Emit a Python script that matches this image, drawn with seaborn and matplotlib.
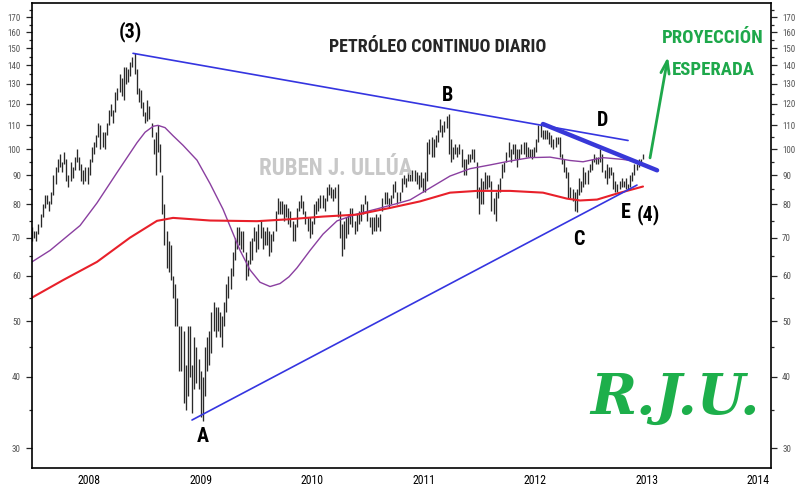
import numpy as np
import pandas as pd
import seaborn as sns
import matplotlib
matplotlib.use('Agg')
import matplotlib.pyplot as plt
from matplotlib.ticker import NullFormatter
from matplotlib.transforms import ScaledTranslation

# weekly (high, low) bars, one tuple per friday, from 10-aug-2007
hl_2007 = [(73, 69), (72, 70), (72, 69), (74, 71),
           (77, 73), (80, 76), (83, 79), (83, 80),
           (81, 78), (84, 80), (90, 83), (93, 87),
           (96, 91), (98, 93), (95, 91), (99, 94), (96, 88),
           (90, 86), (95, 88), (93, 89), (97, 92)]
hl_2008 = [(100, 95), (97, 92), (94, 88), (92, 87),
           (93, 88), (93, 87), (96, 90), (101, 95), (103, 98),
           (106, 101), (111, 105), (110, 100), (107, 101),
           (107, 100), (111, 106), (117, 110), (120, 114),
           (117, 111), (126, 116), (128, 122), (135, 126), (133, 124),
           (139, 122), (139, 130), (138, 131), (142, 134),
           (145, 139), (147, 135), (138, 125), (128, 121),
           (127, 118), (121, 114), (116, 111), (122, 112), (119, 113),
           (111, 105), (104, 98), (107, 90), (110, 99),
           (102, 91), (90, 77), (80, 68), (72, 62), (69, 61),
           (68, 59), (60, 55), (58, 49), (55, 49),
           (49, 41), (49, 41), (48, 36), (42, 35)]
hl_2009 = [(49, 37), (49, 40), (42, 34.5), (47, 38), (45, 39),
           (43, 38), (41, 34), (40, 33.5), (45, 37),
           (47, 41), (48, 42), (52, 44), (54, 48),
           (53, 47), (53, 48), (52, 47), (51, 45),
           (54, 49), (58, 52), (60, 55), (62, 57), (66, 60),
           (70, 64), (73, 67), (73, 68), (72, 67),
           (72, 66), (66, 59), (64, 60), (69, 63), (70, 64),
           (73, 69), (72, 66), (74, 67), (75, 70),
           (73, 67), (72, 68), (73, 68), (72, 65),
           (71, 66), (72, 69), (78, 72), (82, 77), (81, 77),
           (81, 77), (80, 75), (80, 76), (79, 74),
           (78, 73), (75, 69), (74, 69), (79, 73)]
hl_2010 = [(81, 78), (83, 79), (81, 77), (78, 74), (76, 72),
           (76, 70), (75, 71), (80, 74), (81, 77),
           (82, 78), (83, 79), (83, 79), (82, 78),
           (86, 81), (87, 83), (86, 82), (85, 81), (86, 82),
           (87, 76), (78, 70), (74, 65), (75, 67),
           (76, 70), (77, 71), (79, 74), (79, 73),
           (75, 71), (77, 72), (78, 74), (80, 75), (80, 77),
           (83, 80), (81, 75), (76, 73), (76, 71),
           (76, 72), (77, 72), (76, 73), (77, 72),
           (82, 78), (84, 80), (84, 80), (82, 79), (83, 80),
           (87, 82), (88, 84), (84, 80), (84, 81),
           (89, 84), (90, 87), (89, 86), (91, 88), (92, 88)]
hl_2011 = [(92, 88), (92, 88), (91, 87), (90, 85),
           (91, 86), (89, 84), (91, 84), (103, 88),
           (104, 98), (105, 97), (104, 97), (106, 101),
           (108, 103), (113, 107), (110, 105), (112, 107), (114, 109),
           (115, 98), (104, 95), (101, 96), (102, 98),
           (101, 97), (102, 98), (100, 93), (96, 90),
           (96, 90), (98, 94), (98, 95), (100, 96), (100, 95),
           (95, 82), (86, 77), (89, 80), (88, 80),
           (91, 85), (90, 85), (90, 86), (88, 78), (82, 77),
           (84, 75), (87, 82), (89, 84), (94, 89),
           (95, 91), (99, 95), (103, 97), (100, 95),
           (102, 98), (102, 96), (100, 93), (100, 96), (102, 98)]
hl_2012 = [(103, 98), (103, 97), (101, 97), (100, 97),
           (100, 96), (101, 97), (104, 99), (110, 103),
           (111, 105), (108, 104), (108, 104), (108, 104), (107, 102),
           (106, 101), (104, 100), (105, 101), (105, 102),
           (105, 97), (98, 94), (96, 91), (93, 89),
           (91, 82), (86, 82), (85, 81), (84, 78), (85, 77.5),
           (89, 83), (88, 84), (93, 86), (91, 87),
           (92, 87), (94, 91), (96, 92), (98, 95), (97, 94),
           (97, 94), (100, 95), (98, 91), (92, 89),
           (94, 87), (93, 89), (93, 90), (91, 85),
           (88, 84), (87, 84), (88, 85), (89, 86), (88, 86),
           (89, 85), (87, 85), (90, 86), (91, 88)]
hl_2013 = [(94, 90), (94, 92), (96, 93), (96, 95), (98, 96)]

# moving averages (decimal year, price)
ma_fast_t = [2007.605, 2007.767, 2008.036, 2008.188, 2008.368, 2008.547, 2008.619,
             2008.692, 2008.735, 2008.798, 2008.870, 2008.960, 2009.085, 2009.202,
             2009.318, 2009.471, 2009.560, 2009.650, 2009.740, 2009.830, 2009.910,
             2009.982, 2010.099, 2010.215, 2010.341, 2010.520, 2010.700, 2010.879,
             2010.996, 2011.175, 2011.354, 2011.534, 2011.713, 2011.892, 2012.072,
             2012.251, 2012.430, 2012.547, 2012.726, 2012.906, 2013.058]
ma_fast = [63.5, 66.5, 73.5, 80.5, 91, 102.6, 107,
           109.6, 110, 109, 105.5, 101.5, 95.6, 87,
           78.5, 66.5, 61.5, 58.5, 57.5, 58.2, 59.8,
           62, 66.5, 71, 74.9, 77, 78.6, 80.3,
           81.5, 85.5, 89.7, 92.4, 93.8, 95.3, 96.6,
           96.8, 95.5, 95, 96.6, 95.9, 94.9]
ma_slow_t = [2007.605, 2007.883, 2008.188, 2008.484, 2008.726, 2008.870, 2009.202,
             2009.623, 2009.919, 2010.215, 2010.520, 2010.816, 2011.085, 2011.354,
             2011.596, 2011.892, 2012.188, 2012.404, 2012.520, 2012.673, 2012.852,
             2013.085]
ma_slow = [55, 59, 63.5, 70, 74.9, 75.8, 75,
           74.8, 75.4, 76.2, 76.8, 78.9, 81, 83.9,
           84.5, 84.5, 83.9, 81.9, 81.3, 81.6, 83.6,
           86]

# trend lines (start, end)
upper_t, upper_p = [2008.511, 2012.951], [147, 103.5]
thick_t, thick_p = [2012.188, 2013.211], [110.6, 91.8]
lower_t, lower_p = [2009.040, 2013.031], [33.6, 86.5]
arrow_t, arrow_p = [2013.148, 2013.309], [96.5, 145]

years = [2008, 2009, 2010, 2011, 2012, 2013, 2014]
price_ticks = [30, 40, 50, 60, 70, 80, 90, 100, 110, 120, 130, 140, 150, 160, 170]
price_minor = [35, 45, 55, 65, 75, 85, 95, 105, 115, 125, 135, 145, 155, 165, 175]

bars = pd.DataFrame(hl_2007 + hl_2008 + hl_2009 + hl_2010 + hl_2011 + hl_2012 + hl_2013,
                    columns=['high', 'low'])
dates = pd.date_range('2007-08-10', periods=len(bars), freq='W-FRI')
bars['t'] = dates.year + (dates.dayofyear - 1) / np.where(dates.is_leap_year, 366, 365)

sns.set_style('white')
plt.rcParams['font.family'] = ['Roboto Condensed', 'Liberation Sans Narrow', 'Roboto', 'DejaVu Sans']

fig = plt.figure(figsize=(8.01, 4.88), dpi=100)
ax = fig.add_axes([32 / 801, 1 - 468 / 488, (771 - 32) / 801, (468 - 3) / 488])
ax.set_yscale('log')

ax.vlines(bars['t'], bars['low'], bars['high'], color='#2a2a2a', lw=0.95)

sns.lineplot(x=ma_fast_t, y=ma_fast, ax=ax, color='#8a3fa0', lw=1.0)
sns.lineplot(x=ma_slow_t, y=ma_slow, ax=ax, color='#e8202a', lw=1.5)

sns.lineplot(x=upper_t, y=upper_p, ax=ax, color='#3535e0', lw=1.2)
sns.lineplot(x=lower_t, y=lower_p, ax=ax, color='#3535e0', lw=1.2)
sns.lineplot(x=thick_t, y=thick_p, ax=ax, color='#3838d8', lw=3.2)

ax.annotate('', xy=(arrow_t[1], arrow_p[1]), xytext=(arrow_t[0], arrow_p[0]),
            arrowprops=dict(arrowstyle='->,head_length=0.9,head_width=0.3',
                            color='#1ea84b', lw=2, shrinkA=0, shrinkB=0))

ax.set_xlim(2007.605, 2014.233)
ax.set_ylim(27.7, 180)

# axes ticks
ax.set_xticks(years)
ax.set_xticklabels([str(y) for y in years])
ax.set_xticks([y + m / 12 for y in range(2007, 2015) for m in range(12)
               if 2007.605 < y + m / 12 < 2014.233], minor=True)
ax.tick_params(axis='x', which='major', direction='out', length=12, width=1,
               pad=-7.5, labelsize=8.5, colors='black')
ax.tick_params(axis='x', which='minor', direction='out', length=3.5, width=0.8)
for lab in ax.get_xticklabels():
    lab.set_ha('left')
    lab.set_transform(lab.get_transform() + ScaledTranslation(1.2 / 72, 0, fig.dpi_scale_trans))

ax.set_yticks(price_ticks)
ax.set_yticklabels([str(p) for p in price_ticks])
ax.set_yticks(price_minor, minor=True)
ax.yaxis.set_minor_formatter(NullFormatter())
ax.tick_params(axis='y', which='both', left=True, right=True, labelleft=True,
               labelright=True, direction='out', width=0.9)
ax.tick_params(axis='y', which='major', length=4, pad=4, labelsize=6.5, labelcolor='#555555')
ax.tick_params(axis='y', which='minor', length=2.5)
ax.set_xlabel('')
ax.set_ylabel('')

for sp in ax.spines.values():
    sp.set_visible(True)
    sp.set_color('black')
    sp.set_linewidth(1.2)

# annotations
big = dict(fontsize=14.5, fontweight='bold', ha='center', va='center', color='black')
ax.text(2008.484, 160.6, '(3)', **big)
ax.text(2011.336, 124, 'B', **big)
ax.text(2012.726, 112, 'D', **big)
ax.text(2012.511, 69.4, 'C', **big)
ax.text(2012.935, 77.4, 'E', **big)
ax.text(2013.135, 76.8, '(4)', **big)
ax.text(2009.139, 31.4, 'A', **big)

ax.text(0.549, 0.905, 'PETRÓLEO CONTINUO DIARIO', transform=ax.transAxes,
        fontsize=13, fontweight='bold', ha='center', va='center')
ax.text(0.411, 0.645, 'RUBEN J. ULLÚA', transform=ax.transAxes, fontsize=16.5,
        fontweight='bold', color='#c8c8c8', ha='center', va='center')
ax.text(0.9215, 0.9247, 'PROYECCIÓN', transform=ax.transAxes, fontsize=13.5,
        fontweight='bold', color='#1ea84b', ha='center', va='center')
ax.text(0.9215, 0.856, 'ESPERADA', transform=ax.transAxes, fontsize=13.5,
        fontweight='bold', color='#1ea84b', ha='center', va='center')
ax.text(0.870, 0.1505, 'R.J.U.', transform=ax.transAxes, fontsize=40,
        fontweight='bold', fontstyle='italic', family='DejaVu Serif',
        color='#1daf4b', ha='center', va='center')

fig.savefig('out.png', dpi=100)
